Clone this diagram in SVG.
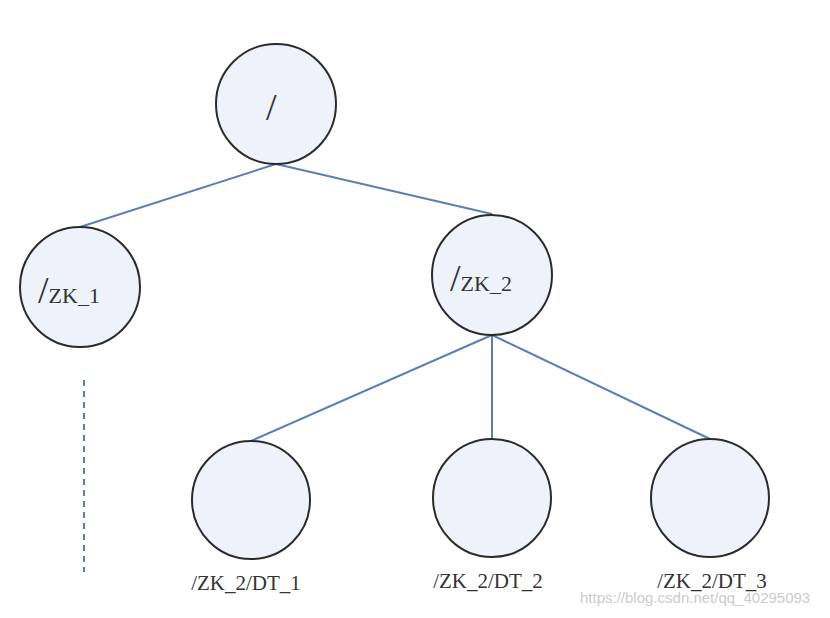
<svg xmlns="http://www.w3.org/2000/svg" width="830" height="618" viewBox="0 0 830 618">
<style>
circle{fill:#eef3fb;stroke:#2b2b2b;stroke-width:2}
.c line{stroke:#5b7fb5;stroke-width:2}
text{font-family:"Liberation Serif",serif;fill:#333}
.big{font-size:38px}.sm{font-size:22px}.lb{font-size:21px;text-anchor:middle}
</style>
<rect width="830" height="618" fill="#fff"/>
<g class="c">
<line x1="276" y1="164" x2="80" y2="227"/>
<line x1="276" y1="164" x2="492" y2="214"/>
<line x1="492" y1="335" x2="251" y2="441"/>
<line x1="492" y1="335" x2="492" y2="439"/>
<line x1="492" y1="335" x2="710" y2="439"/>
<line x1="84" y1="380" x2="84" y2="572" stroke-dasharray="6,5"/>
</g>
<g id="root"><circle cx="276" cy="104" r="60"/><text class="big" x="266" y="120">/</text></g>
<g id="zk1"><circle cx="80" cy="287" r="60"/><text x="38" y="303"><tspan class="big">/</tspan><tspan class="sm">ZK_1</tspan></text></g>
<g id="zk2"><circle cx="492" cy="275" r="60"/><text x="450" y="291"><tspan class="big">/</tspan><tspan class="sm">ZK_2</tspan></text></g>
<g id="dt1"><circle cx="251" cy="500" r="59"/><text class="lb" x="246" y="590">/ZK_2/DT_1</text></g>
<g id="dt2"><circle cx="492" cy="498" r="59"/><text class="lb" x="488" y="588">/ZK_2/DT_2</text></g>
<g id="dt3"><circle cx="710" cy="498" r="59"/><text class="lb" x="712" y="588">/ZK_2/DT_3</text></g>
<text x="580" y="603" style="font-family:'Liberation Sans',sans-serif;font-size:15px;fill:#ccc">https://blog.csdn.net/qq_40295093</text>
</svg>
